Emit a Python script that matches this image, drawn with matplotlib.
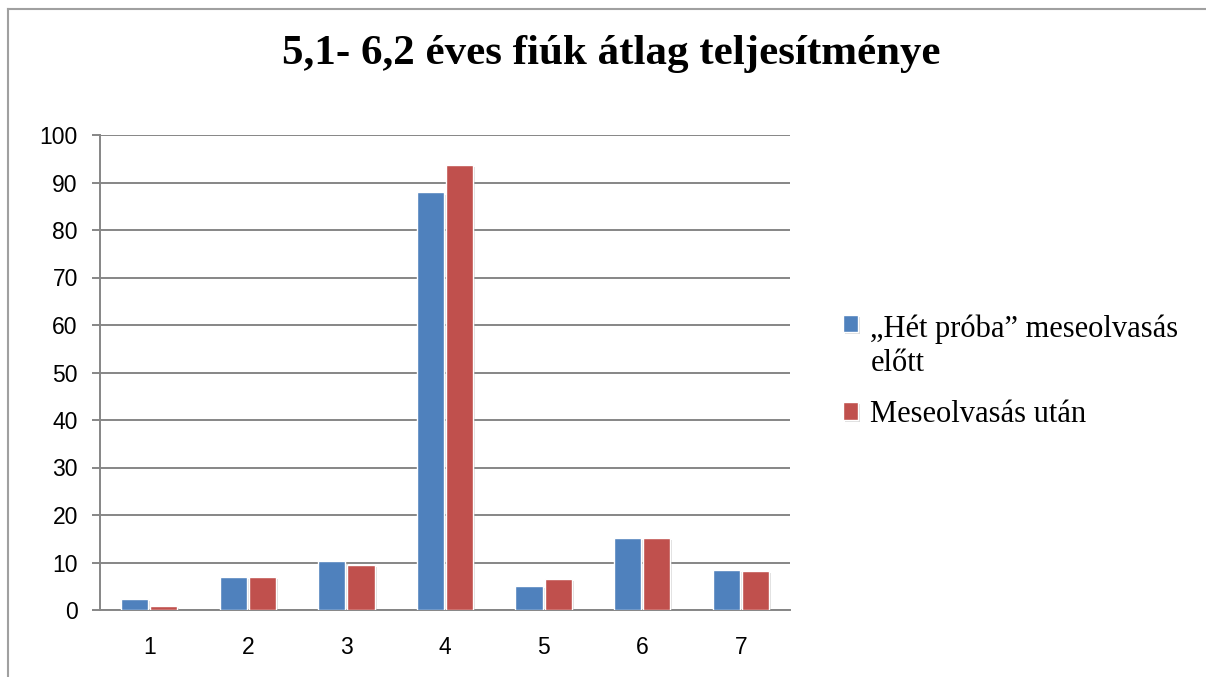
import matplotlib
matplotlib.use("Agg")
import matplotlib.pyplot as plt
import numpy as np
from matplotlib import patheffects as pe
from matplotlib.lines import Line2D

# data
categories = ["1", "2", "3", "4", "5", "6", "7"]
before = [2.4, 7.0, 10.4, 87.9, 5.1, 15.2, 8.5]
after = [0.8, 7.0, 9.5, 93.6, 6.5, 15.2, 8.2]
series_names = ["\u201eH\u00e9t pr\u00f3ba\u201d meseolvas\u00e1s\nel\u0151tt",
                "Meseolvas\u00e1s ut\u00e1n"]
yticks = [0, 10, 20, 30, 40, 50, 60, 70, 80, 90, 100]
title = "5,1- 6,2 \u00e9ves fi\u00fak \u00e1tlag teljes\u00edtm\u00e9nye"

blue = "#4F81BD"
red = "#C0504D"
grid_col = "#868686"

W, H = 1206, 677
fig = plt.figure(figsize=(W / 100, H / 100), dpi=100)
ax = fig.add_axes([100 / W, 1 - 610 / H, 690 / W, 475 / H])

x = np.arange(len(categories))
bw = 0.275
shadow = [pe.SimplePatchShadow(offset=(1.5, -1.5), shadow_rgbFace="#999999", alpha=0.35), pe.Normal()]
b1 = ax.bar(x - bw / 2 - 0.01, before, bw, color=blue, edgecolor="white", linewidth=1, zorder=3,
            label=series_names[0])
b2 = ax.bar(x + bw / 2 + 0.01, after, bw, color=red, edgecolor="white", linewidth=1, zorder=3,
            label=series_names[1])
for b in list(b1) + list(b2):
    b.set_path_effects(shadow)

ax.set_xlim(-0.5, len(categories) - 0.5)
ax.set_ylim(0, 100)
ax.set_yticks(yticks)
ax.set_xticks(x)
ax.set_xticklabels(categories)
ax.yaxis.grid(True, color=grid_col, linewidth=1.4, zorder=0)
ax.set_axisbelow(True)

for s in ["top", "right"]:
    ax.spines[s].set_visible(False)
for s in ["left", "bottom"]:
    ax.spines[s].set_color(grid_col)
    ax.spines[s].set_linewidth(1.4)

for lab in ax.get_xticklabels() + ax.get_yticklabels():
    lab.set_fontfamily("Liberation Sans")
    lab.set_fontsize(16.5)
ax.tick_params(axis="x", length=0, pad=19)
ax.tick_params(axis="y", length=6, width=1.4, color=grid_col, pad=10, direction="out")

fig.text(611 / W, 1 - 64 / H, title, ha="center", va="baseline",
         fontfamily="Liberation Serif", fontweight="bold", fontsize=31)

leg = fig.legend(handles=[b1, b2], loc="upper left", bbox_to_anchor=(843 / W, 1 - 315 / H),
                 frameon=False, prop={"family": "Liberation Serif", "size": 22},
                 handlelength=0.5, handleheight=0.5, handletextpad=0.4,
                 labelspacing=0.72, borderpad=0, borderaxespad=0)
# Excel puts the marker next to the first line of a wrapped label
h0 = leg.legend_handles[0]
h0.set_y(h0.get_y() + 16.5)

# outer chart border (top and left edges visible)
fig.add_artist(Line2D([8 / W, 1], [1 - 9 / H, 1 - 9 / H], color="#a0a0a0", linewidth=1.5))
fig.add_artist(Line2D([8 / W, 8 / W], [0, 1 - 9 / H], color="#a0a0a0", linewidth=1.5))

fig.savefig("out.png", dpi=100)
